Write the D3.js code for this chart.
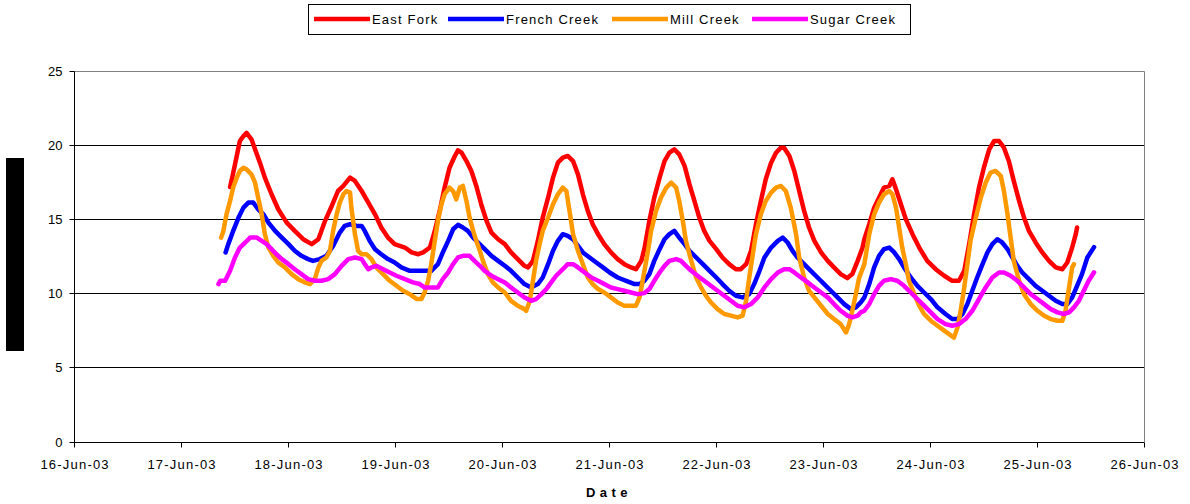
<!DOCTYPE html>
<html>
<head>
<meta charset="utf-8">
<script src="https://cdn.jsdelivr.net/npm/d3@7"></script>
<style>
  html, body { margin: 0; padding: 0; background: #fff; }
  svg { display: block; }
  text { font-family: "Liberation Sans", Arial, sans-serif; fill: #000; }
</style>
</head>
<body>
<svg id="chart" width="1190" height="504"></svg>
<script>
// Water temperature readings, [hours after 17-Jun-2003 00:00, temperature °C]
const seriesNames = ["East Fork", "French Creek", "Mill Creek", "Sugar Creek"];
const seriesColors = ["#FF0000", "#0000FF", "#FF9900", "#FF00FF"];

const eastFork = [
  [11.1,17.15],[11.6,17.8],[12.6,19.24],[13.3,20.25],[14.1,20.58],[14.8,20.8],[15.9,20.36],[16.7,19.69],
  [17.8,18.79],[18.9,17.78],[20.4,16.66],[21.9,15.65],[23.8,14.75],[25.6,14.19],[27.5,13.63],[29.4,13.3],
  [30.9,13.63],[32.4,14.87],[33.9,15.87],[35.3,16.88],[36.5,17.22],[38.0,17.78],[39.1,17.56],[40.6,16.88],
  [42.1,16.1],[43.6,15.31],[45.0,14.42],[46.5,13.74],[48.0,13.3],[50.3,13.07],[51.8,12.74],[53.3,12.62],
  [54.4,12.74],[55.9,13.07],[57.0,14.19],[58.1,15.54],[59.2,17.11],[60.3,18.45],[61.5,19.24],[62.2,19.62],
  [63.0,19.46],[64.1,18.9],[65.2,18.23],[66.3,17.22],[67.4,15.99],[68.6,14.87],[69.7,14.08],[71.2,13.63],
  [72.7,13.3],[74.1,12.74],[75.6,12.29],[77.1,11.84],[77.9,11.73],[79.0,12.17],[80.1,13.52],[81.2,15.09],
  [82.4,16.43],[83.5,17.78],[84.6,18.79],[85.7,19.13],[86.8,19.24],[88.0,18.9],[89.1,18.0],[90.2,16.66],
  [91.3,15.54],[92.4,14.64],[93.6,13.97],[95.0,13.3],[96.5,12.74],[98.0,12.29],[99.5,11.95],[101.0,11.73],
  [102.1,11.61],[103.3,12.17],[104.0,13.0],[105.1,14.87],[106.2,16.43],[107.4,17.78],[108.5,18.9],[109.6,19.46],
  [110.7,19.69],[111.8,19.35],[113.0,18.57],[114.1,17.33],[115.2,16.21],[116.3,15.09],[117.4,14.19],[118.6,13.52],
  [120.1,12.96],[121.5,12.4],[123.0,11.95],[124.5,11.61],[125.6,11.61],[126.8,11.95],[127.9,12.85],[129.0,14.64],
  [130.1,16.21],[131.2,17.67],[132.4,18.79],[133.5,19.46],[134.6,19.8],[135.3,19.8],[136.5,19.24],[137.6,18.23],
  [138.7,16.88],[139.8,15.54],[140.9,14.42],[142.1,13.52],[143.6,12.74],[145.1,12.17],[146.5,11.73],[148.0,11.28],
  [149.5,11.01],[150.6,11.28],[151.8,12.17],[152.9,13.07],[153.3,13.63],[154.4,14.64],[155.5,15.76],[156.6,16.43],
  [157.7,17.11],[158.9,17.22],[159.6,17.67],[160.4,17.0],[161.5,15.99],[162.6,14.98],[164.1,13.97],[165.6,13.07],
  [167.4,12.17],[169.3,11.61],[171.2,11.17],[173.0,10.83],[174.5,10.83],[175.7,11.5],[176.8,13.3],[177.9,15.31],
  [179.0,17.11],[180.1,18.45],[181.3,19.69],[182.4,20.25],[183.5,20.25],[184.6,19.8],[185.7,18.9],[186.8,17.56],
  [188.0,16.21],[189.1,15.09],[190.2,14.19],[191.7,13.41],[193.2,12.74],[194.7,12.17],[196.2,11.73],[197.7,11.61],
  [198.8,12.06],[199.9,13.07],[200.7,13.97],[201.0,14.42]
];

const frenchCreek = [
  [10.1,12.74],[10.7,13.3],[11.8,14.19],[13.0,15.09],[14.1,15.76],[15.2,16.1],[16.3,16.1],[17.4,15.65],
  [18.6,15.31],[19.7,14.75],[21.2,14.19],[22.7,13.74],[24.2,13.3],[25.6,12.85],[27.1,12.51],[28.6,12.29],
  [29.7,12.17],[31.2,12.29],[32.7,12.51],[34.2,13.18],[35.7,14.08],[36.8,14.53],[38.0,14.64],[39.5,14.53],
  [40.6,14.53],[41.3,14.19],[42.4,13.52],[43.6,12.96],[45.0,12.62],[46.5,12.29],[48.0,12.06],[49.5,11.73],
  [51.4,11.5],[53.3,11.5],[54.7,11.5],[56.2,11.5],[57.7,11.95],[58.8,12.74],[60.0,13.52],[61.1,14.3],
  [62.2,14.6],[63.3,14.42],[64.4,14.19],[65.6,13.74],[66.7,13.41],[68.2,12.96],[69.7,12.51],[71.2,12.17],
  [72.7,11.84],[74.1,11.5],[75.6,11.05],[77.1,10.61],[78.6,10.38],[80.1,10.61],[81.2,11.05],[82.4,11.95],
  [83.5,12.85],[84.6,13.52],[85.7,13.97],[86.8,13.86],[88.0,13.63],[89.1,13.18],[90.2,12.74],[91.7,12.4],
  [93.2,12.06],[94.7,11.73],[96.2,11.39],[98.0,11.05],[99.9,10.83],[101.8,10.61],[102.9,10.61],[104.0,10.83],
  [105.1,11.28],[106.2,12.17],[107.4,12.96],[108.5,13.63],[109.6,13.97],[110.7,14.19],[111.8,13.74],[113.0,13.3],
  [114.1,12.85],[115.6,12.4],[117.1,11.95],[118.6,11.5],[120.1,11.05],[121.5,10.61],[123.0,10.16],[124.5,9.82],
  [126.0,9.71],[127.5,9.93],[128.6,10.61],[129.8,11.5],[130.9,12.4],[132.4,13.07],[133.9,13.52],[135.0,13.74],
  [136.1,13.41],[137.2,12.85],[138.3,12.4],[139.8,11.95],[141.3,11.5],[142.8,11.05],[144.3,10.61],[145.8,10.16],
  [147.3,9.71],[148.8,9.26],[150.3,8.92],[151.4,9.04],[152.5,9.37],[153.3,9.71],[154.4,10.61],[155.5,11.73],
  [156.6,12.51],[157.7,12.96],[158.9,13.07],[160.0,12.74],[161.1,12.29],[162.2,11.73],[163.7,11.05],[165.2,10.49],
  [166.7,10.04],[168.2,9.6],[169.7,9.04],[171.5,8.59],[173.0,8.25],[174.2,8.25],[175.3,8.59],[176.4,9.26],
  [177.5,10.16],[178.6,11.05],[179.8,11.95],[180.9,12.74],[182.0,13.3],[183.1,13.63],[184.2,13.41],[185.4,12.96],
  [186.5,12.4],[187.6,11.84],[188.7,11.39],[190.2,10.94],[191.7,10.49],[193.2,10.16],[194.7,9.82],[196.2,9.48],
  [197.7,9.26],[198.8,9.26],[199.9,9.71],[201.0,10.49],[202.1,11.28],[203.3,12.4],[204.8,13.1]
];

const millCreek = [
  [9.1,13.74],[9.6,14.19],[10.3,15.31],[11.1,16.21],[11.8,17.11],[12.6,17.78],[13.3,18.23],[14.1,18.45],
  [14.8,18.34],[15.9,18.0],[16.7,17.44],[17.4,16.43],[18.2,15.31],[18.9,13.97],[19.7,13.07],[20.8,12.51],
  [21.9,12.06],[23.4,11.73],[24.9,11.28],[26.4,10.94],[27.9,10.72],[29.0,10.6],[30.1,10.94],[30.9,11.73],
  [31.6,12.17],[32.7,12.4],[33.5,12.85],[34.2,14.19],[35.0,15.31],[35.7,16.1],[36.5,16.66],[37.2,16.88],
  [38.0,16.77],[38.3,15.76],[39.1,13.97],[39.8,12.85],[40.6,12.62],[41.7,12.62],[42.8,12.29],[43.9,11.73],
  [45.4,11.28],[46.9,10.83],[48.4,10.49],[49.9,10.16],[51.4,9.93],[52.9,9.6],[54.0,9.6],[54.7,10.04],
  [55.5,10.83],[56.2,11.95],[57.0,13.52],[57.7,14.87],[58.5,15.99],[59.2,16.66],[60.3,17.11],[61.1,16.88],
  [61.8,16.32],[62.6,17.11],[63.3,17.22],[64.1,16.21],[64.8,15.09],[65.6,14.19],[66.3,13.52],[67.1,12.85],
  [67.8,12.17],[68.9,11.28],[70.0,10.72],[71.2,10.38],[72.7,10.04],[74.1,9.48],[75.6,9.15],[77.1,8.92],
  [77.5,8.81],[78.3,9.48],[79.0,10.83],[79.7,12.17],[80.5,13.3],[81.2,14.19],[82.4,15.09],[83.5,15.99],
  [84.6,16.66],[85.7,17.11],[86.5,16.88],[87.2,15.54],[88.0,13.97],[89.1,12.85],[90.2,11.95],[91.3,11.05],
  [92.4,10.61],[93.6,10.27],[95.0,10.04],[96.5,9.71],[98.0,9.37],[99.5,9.15],[101.0,9.15],[102.1,9.15],
  [102.9,9.71],[103.6,10.83],[104.0,11.5],[104.8,12.85],[105.5,14.19],[106.6,15.54],[107.7,16.43],[108.9,17.11],
  [110.0,17.44],[111.1,17.11],[111.8,16.21],[112.6,14.87],[113.3,13.52],[114.5,12.17],[115.6,11.05],[116.7,10.38],
  [117.8,9.82],[118.9,9.37],[120.4,8.92],[121.9,8.59],[123.4,8.48],[124.9,8.36],[126.0,8.48],[126.8,9.48],
  [127.5,11.05],[128.3,12.62],[129.0,13.97],[130.1,15.31],[131.2,16.21],[132.4,16.77],[133.5,17.11],[134.6,17.22],
  [135.7,16.88],[136.8,15.76],[138.0,13.97],[138.7,12.4],[139.8,11.05],[140.9,10.16],[142.1,9.71],[143.6,9.15],
  [145.1,8.59],[146.5,8.25],[148.0,7.91],[149.2,7.35],[149.9,7.91],[150.6,8.81],[151.4,9.93],[152.1,11.0],
  [153.3,11.95],[154.4,13.97],[155.5,15.31],[156.6,16.1],[157.7,16.66],[158.9,16.88],[159.6,16.66],[160.4,15.76],
  [161.1,14.42],[161.8,13.07],[162.6,11.95],[163.3,10.83],[164.5,9.93],[165.6,9.15],[166.7,8.59],[168.2,8.14],
  [169.7,7.8],[171.2,7.47],[172.3,7.24],[173.4,7.0],[174.2,7.69],[174.9,8.81],[175.7,10.38],[176.4,11.95],
  [177.1,13.52],[178.3,15.09],[179.4,16.43],[180.5,17.44],[181.6,18.12],[182.7,18.23],[183.9,17.89],[184.6,16.88],
  [185.4,15.31],[186.1,13.74],[186.8,12.17],[188.0,10.83],[189.1,9.93],[190.6,9.26],[192.1,8.81],[193.6,8.48],
  [195.1,8.25],[196.6,8.14],[197.7,8.14],[198.4,8.81],[199.2,10.38],[199.9,11.73],[200.3,11.95]
];

const sugarCreek = [
  [8.5,10.61],[8.9,10.83],[10.0,10.83],[11.1,11.5],[12.2,12.4],[13.3,13.07],[14.5,13.41],[15.6,13.74],
  [17.1,13.74],[18.2,13.52],[19.3,13.3],[20.4,12.96],[21.5,12.62],[22.7,12.29],[24.2,11.95],[25.6,11.61],
  [27.1,11.28],[28.6,10.94],[30.1,10.83],[31.6,10.83],[33.1,10.94],[34.6,11.28],[36.1,11.84],[37.6,12.29],
  [39.1,12.4],[40.6,12.29],[41.3,11.95],[42.1,11.61],[42.8,11.73],[43.9,11.84],[45.4,11.61],[46.9,11.39],
  [48.4,11.17],[50.3,10.94],[52.1,10.72],[53.6,10.61],[54.7,10.38],[56.2,10.38],[57.7,10.38],[58.8,10.94],
  [60.0,11.39],[61.1,11.95],[62.2,12.4],[63.3,12.51],[64.8,12.51],[65.9,12.17],[67.1,11.84],[68.2,11.5],
  [69.7,11.17],[71.2,10.94],[72.7,10.72],[74.1,10.38],[75.6,10.04],[77.1,9.71],[78.6,9.48],[79.7,9.6],
  [80.9,9.93],[82.0,10.27],[83.1,10.72],[84.2,11.17],[85.7,11.61],[86.8,11.95],[88.0,11.95],[89.1,11.73],
  [90.6,11.39],[92.1,11.05],[93.6,10.83],[95.0,10.61],[96.5,10.38],[98.0,10.27],[99.5,10.16],[101.0,10.04],
  [102.5,9.93],[104.0,10.0],[105.1,10.27],[106.2,10.83],[107.4,11.39],[108.5,11.84],[109.6,12.17],[111.1,12.29],
  [112.2,12.17],[113.3,11.84],[114.5,11.5],[115.9,11.17],[117.4,10.83],[118.9,10.49],[120.4,10.16],[121.9,9.82],
  [123.4,9.48],[124.9,9.15],[126.4,9.04],[127.9,9.26],[129.4,9.71],[130.9,10.38],[132.4,10.94],[133.9,11.39],
  [135.3,11.61],[136.5,11.61],[137.6,11.39],[139.1,11.05],[140.6,10.72],[142.1,10.38],[143.6,10.04],[145.1,9.71],
  [146.5,9.26],[148.0,8.81],[149.5,8.48],[150.6,8.36],[151.8,8.48],[152.5,8.7],[153.3,8.81],[154.4,9.26],
  [155.5,9.93],[156.6,10.49],[157.7,10.83],[159.2,10.94],[160.7,10.83],[162.2,10.49],[163.7,10.04],[165.2,9.6],
  [166.7,9.15],[168.2,8.7],[169.7,8.25],[171.5,7.91],[173.0,7.8],[174.5,7.91],[176.0,8.25],[177.5,8.81],
  [179.0,9.6],[180.5,10.38],[182.0,11.05],[183.5,11.39],[184.6,11.39],[186.1,11.17],[187.6,10.83],[189.1,10.38],
  [190.6,9.93],[192.1,9.6],[193.6,9.26],[195.1,8.92],[196.6,8.7],[198.0,8.59],[199.2,8.7],[200.3,9.04],
  [201.4,9.48],[202.5,10.16],[203.6,10.83],[204.8,11.4]
];

const yTickValues = [0, 5, 10, 15, 20, 25];
const xTickDates = d3.timeDays(new Date(2003, 5, 16), new Date(2003, 5, 27));
const xAxisTitle = "Date";

const series = [eastFork, frenchCreek, millCreek, sugarCreek];
const origin = new Date(2003, 5, 17);
const toDate = h => new Date(origin.getTime() + h * 3600 * 1000);

const svg = d3.select("#chart");
const plotLeft = 73.5, plotRight = 1144, plotTop = 70.5, plotBottom = 441.5;

const x = d3.scaleTime()
  .domain([new Date(2003, 5, 16), new Date(2003, 5, 26)])
  .range([plotLeft, plotRight]);
const y = d3.scaleLinear().domain([0, 25]).range([plotBottom, plotTop]);
const crisp = v => Math.round(v) + 0.5;

// horizontal gridlines
svg.append("g").selectAll("line")
  .data(yTickValues.filter(v => v > 0 && v < 25))
  .join("line")
  .attr("x1", plotLeft).attr("x2", plotRight)
  .attr("y1", d => crisp(y(d))).attr("y2", d => crisp(y(d)))
  .attr("stroke", "#000").attr("stroke-width", 1);

// plot frame: grey top and right edges
svg.append("line").attr("x1", plotLeft).attr("x2", crisp(plotRight))
  .attr("y1", crisp(y(25))).attr("y2", crisp(y(25)))
  .attr("stroke", "#808080");
svg.append("line").attr("x1", crisp(plotRight)).attr("x2", crisp(plotRight))
  .attr("y1", crisp(y(25))).attr("y2", crisp(y(0)))
  .attr("stroke", "#808080");

// y axis
const yAxis = d3.axisLeft(y).tickValues(yTickValues).tickSize(5).tickPadding(7);
const gy = svg.append("g").attr("transform", `translate(${crisp(plotLeft)},0)`).call(yAxis);
gy.select(".domain").attr("stroke", "#000").attr("d", `M0,${crisp(y(25))}V${crisp(y(0))}`);
gy.selectAll(".tick").attr("transform", d => `translate(0,${crisp(y(d))})`);
gy.selectAll(".tick line").attr("stroke", "#000");
gy.selectAll(".tick text")
  .style("font-family", '"Liberation Sans", Arial, sans-serif')
  .style("font-size", "13px").attr("dy", "0.34em").attr("fill", "#000");

// x axis
const xAxis = d3.axisBottom(x).tickValues(xTickDates.slice(0, 11))
  .tickFormat(d3.timeFormat("%d-%b-%y")).tickSize(5).tickPadding(12);
const gx = svg.append("g").attr("transform", `translate(0,${crisp(plotBottom)})`).call(xAxis);
gx.select(".domain").attr("stroke", "#000").attr("d", `M${plotLeft},0H${plotRight}`);
gx.selectAll(".tick").attr("transform", d => `translate(${crisp(x(d))},0)`);
gx.selectAll(".tick line").attr("stroke", "#000");
gx.selectAll(".tick text")
  .style("font-family", '"Liberation Sans", Arial, sans-serif')
  .style("font-size", "13px").style("letter-spacing", "1.2px")
  .attr("dx", "0.6px").attr("fill", "#000");

// axis title
svg.append("text")
  .attr("x", 609).attr("y", 497)
  .attr("text-anchor", "middle")
  .style("font-size", "13px").style("font-weight", "bold").style("letter-spacing", "4.5px")
  .text(xAxisTitle);

// block on the value-axis side
svg.append("rect").attr("x", 6).attr("y", 158).attr("width", 18).attr("height", 193).attr("fill", "#000");

// series lines
const line = d3.line()
  .x(d => x(toDate(d[0])))
  .y(d => y(d[1]));

svg.append("g").selectAll("path")
  .data(series)
  .join("path")
  .attr("d", line)
  .attr("fill", "none")
  .attr("stroke", (d, i) => seriesColors[i])
  .attr("stroke-width", 4.5)
  .attr("stroke-linejoin", "round")
  .attr("stroke-linecap", "round");

// legend
const legend = svg.append("g");
legend.append("rect").attr("x", 308.5).attr("y", 4.5).attr("width", 602).attr("height", 30)
  .attr("fill", "#fff").attr("stroke", "#000");
const legendX = [314, 448, 612, 752];
seriesNames.forEach((name, i) => {
  legend.append("line")
    .attr("x1", legendX[i]).attr("x2", legendX[i] + 56)
    .attr("y1", 19).attr("y2", 19)
    .attr("stroke", seriesColors[i]).attr("stroke-width", 4.5);
  legend.append("text")
    .attr("x", legendX[i] + 58).attr("y", 23.5)
    .style("font-size", "13px").style("letter-spacing", "1.2px")
    .text(name);
});
</script>
</body>
</html>
